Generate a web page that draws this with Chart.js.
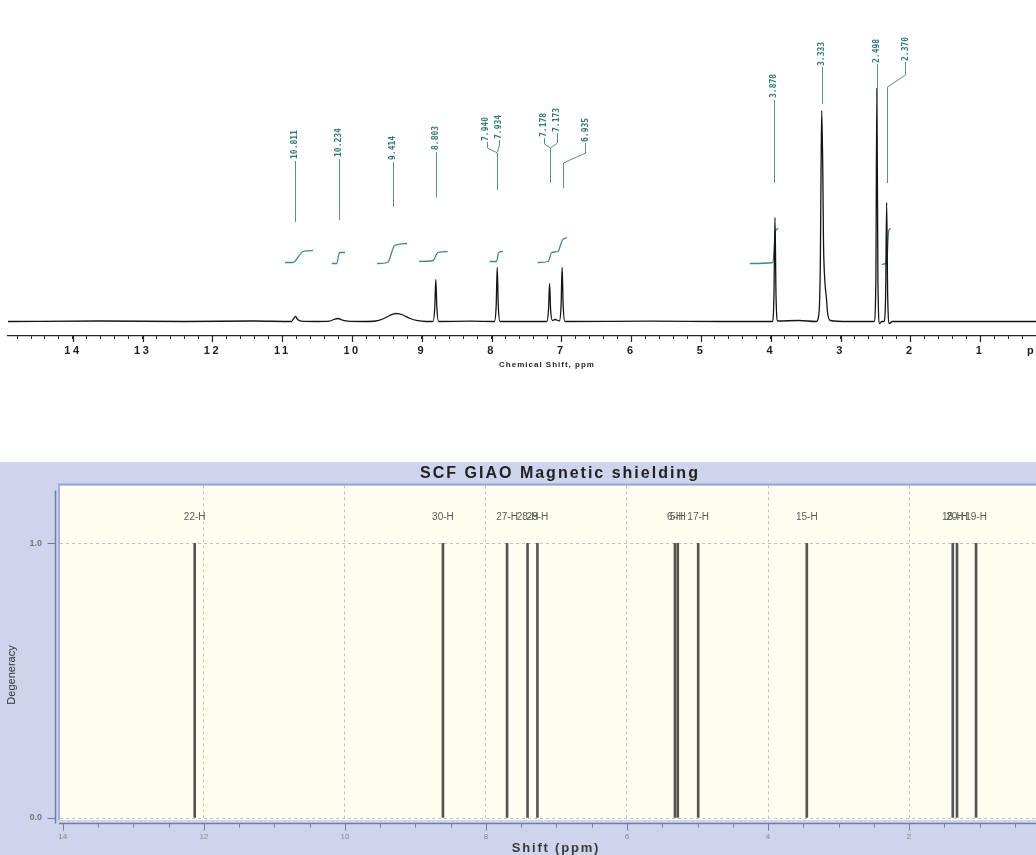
<!DOCTYPE html>
<html>
<head>
<meta charset="utf-8">
<title>1H NMR and SCF GIAO shielding</title>
<script src="https://cdn.jsdelivr.net/npm/chart.js@4.4.1/dist/chart.umd.min.js"></script>
<style>
  html, body { margin: 0; padding: 0; background: #fff; }
  body { position: relative; width: 1036px; height: 855px; overflow: hidden; }
  canvas { position: absolute; left: 0; display: block; }
  #nmrChart { top: 0; }
  #giaoChart { top: 462px; }
</style>
</head>
<body>
<canvas id="nmrChart" width="1036" height="380"></canvas>
<canvas id="giaoChart" width="1036" height="393"></canvas>
<script>
const spectrumPoints = [
    [14.93, 0], [13.60, 0.5], [12.40, 0], [11.40, 0.5],
    [10.87, 0], [10.84, 2.5], [10.81, 5], [10.78, 2], [10.73, 0.3],
    [10.50, 0],
    [10.33, 0.3], [10.26, 2], [10.20, 3], [10.14, 1.5], [10.06, 0.3],
    [9.85, 0],
    [9.66, 0.5], [9.56, 2.5], [9.46, 6], [9.37, 8], [9.27, 6.5], [9.17, 3], [9.06, 0.8], [8.94, 0],
    [8.84, 0], [8.815, 14], [8.80, 42], [8.785, 14], [8.76, 0],
    [8.30, 0.3],
    [7.96, 0], [7.935, 16], [7.92, 54], [7.905, 16], [7.88, 0],
    [7.50, 0],
    [7.21, 0], [7.185, 12], [7.17, 38], [7.155, 12], [7.13, 1], [7.09, 2],
    [7.03, 0.5], [7.005, 16], [6.99, 54], [6.975, 16], [6.95, 0],
    [5.70, 0.3], [4.70, 0],
    [3.98, 0], [3.955, 25], [3.94, 104], [3.925, 25], [3.90, 0.5],
    [3.60, 1],
    [3.35, 0], [3.31, 8], [3.29, 60], [3.28, 150], [3.27, 211], [3.255, 150], [3.245, 80],
    [3.225, 40], [3.205, 25], [3.185, 8], [3.145, 1],
    [2.90, 0],
    [2.52, 0], [2.495, 40], [2.48, 233], [2.465, 40], [2.44, -2], [2.41, 0],
    [2.38, 0], [2.355, 25], [2.34, 119], [2.325, 25], [2.30, -2], [2.26, 0],
    [1.60, 0], [0.20, 0]
];

// Integral steps over the peaks: [ppm, level]
const integralSteps = [
    [[10.96, 59], [10.85, 59], [10.70, 70], [10.56, 71]],
    [[10.29, 58], [10.22, 58], [10.18, 69], [10.10, 69]],
    [[9.64, 58], [9.49, 59], [9.39, 76], [9.21, 78]],
    [[9.04, 60], [8.84, 61], [8.77, 69], [8.63, 70]],
    [[8.03, 60], [7.93, 60], [7.90, 69], [7.84, 70]],
    [[7.34, 59], [7.19, 60], [7.14, 69], [7.05, 70], [6.99, 81], [6.92, 84]],
    [[4.30, 58], [3.97, 59], [3.93, 91], [3.89, 93]],
    [[2.41, 57], [2.34, 59], [2.31, 91], [2.28, 93]]
];

// Peak picking labels as printed
const peakLabels = ['10.811', '10.234', '9.414', '8.803', '7.940', '7.934',
    '7.178', '7.173', '6.935', '3.878', '3.333', '2.498', '2.370'];

const nmrMajorTicks = [1, 2, 3, 4, 5, 6, 7, 8, 9, 10, 11, 12, 13, 14];
const nmrMinorStep = 0.2;

// SCF GIAO calculated shifts
const giaoShift = [12.13, 8.61, 7.70, 7.41, 7.27, 5.32, 5.28, 4.99, 3.45, 1.38, 1.32, 1.05];
const giaoDegeneracy = [1, 1, 1, 1, 1, 1, 1, 1, 1, 1, 1, 1];
const giaoAtom = ['22-H', '30-H', '27-H', '28-H', '29-H', '6-H', '5-H', '17-H', '15-H', '18-H', '20-H', '19-H'];

const giaoMajorTicks = [2, 4, 6, 8, 10, 12, 14];
const giaoMinorStep = 0.5;
const degeneracyTicks = [0, 1];

const TEAL = '#2b7a70';
const TEAL_LINE = '#4f938b';

// where each printed label sits and how its leader runs down (ppm, px)
const leaderLayout = [
    { label: 0, at: 10.82, bottom: 159, path: [[10.82, 161], [10.82, 222]] },
    { label: 1, at: 10.19, bottom: 157, path: [[10.19, 159], [10.19, 220]] },
    { label: 2, at: 9.42, bottom: 160, path: [[9.42, 162], [9.42, 207]] },
    { label: 3, at: 8.80, bottom: 150, path: [[8.80, 152], [8.80, 197]] },
    { label: 4, at: 8.08, bottom: 141, path: [[8.07, 142], [8.07, 148], [7.93, 153], [7.93, 190]] },
    { label: 5, at: 7.89, bottom: 139, path: [[7.89, 140], [7.89, 145], [7.93, 152]] },
    { label: 6, at: 7.25, bottom: 137, path: [[7.25, 138], [7.25, 144], [7.17, 148], [7.17, 183]] },
    { label: 7, at: 7.07, bottom: 132, path: [[7.07, 133], [7.07, 143], [7.17, 148]] },
    { label: 8, at: 6.65, bottom: 142, path: [[6.66, 143], [6.66, 153], [6.98, 163], [6.98, 188]] },
    { label: 9, at: 3.96, bottom: 98, path: [[3.96, 100], [3.96, 183]] },
    { label: 10, at: 3.27, bottom: 66, path: [[3.27, 67], [3.27, 104]] },
    { label: 11, at: 2.48, bottom: 63, path: [[2.48, 64], [2.48, 90]] },
    { label: 12, at: 2.07, bottom: 61, path: [[2.07, 62], [2.07, 75], [2.34, 87], [2.34, 183]] }
];

function stepTicks(scale, step) {
    const ticks = [];
    const n = Math.round(1 / step);
    for (let k = Math.ceil(scale.min * n); k <= Math.floor(scale.max * n); k++) {
        ticks.push({ value: k / n });
    }
    scale.ticks = ticks;
}

const nmrDecor = {
    id: 'nmrDecor',
    beforeDraw(chart) {
        const ctx = chart.ctx;
        ctx.save();
        ctx.fillStyle = '#fff';
        ctx.fillRect(0, 0, chart.width, chart.height);
        ctx.restore();
        ctx.letterSpacing = '2.5px'; // wide tick digits, as on the scan
    },
    afterDatasetsDraw(chart) {
        const ctx = chart.ctx;
        const xs = chart.scales.x;
        ctx.save();
        ctx.letterSpacing = '0px';
        ctx.strokeStyle = TEAL_LINE;
        ctx.lineWidth = 1;
        ctx.fillStyle = TEAL;
        ctx.font = 'bold 8px "DejaVu Sans Mono", "Liberation Mono", monospace';
        leaderLayout.forEach(l => {
            ctx.beginPath();
            l.path.forEach(([p, py], i) => {
                const px = Math.round(xs.getPixelForValue(p)) + 0.5;
                if (i === 0) ctx.moveTo(px, py); else ctx.lineTo(px, py);
            });
            ctx.stroke();
            ctx.save();
            ctx.translate(xs.getPixelForValue(l.at), l.bottom);
            ctx.rotate(-Math.PI / 2);
            ctx.textAlign = 'left';
            ctx.textBaseline = 'middle';
            ctx.fillText(peakLabels[l.label], 0, 0);
            ctx.restore();
        });
        ctx.restore();
    },
    afterDraw(chart) {
        const ctx = chart.ctx;
        const xs = chart.scales.x;
        const base = chart.chartArea.bottom;
        ctx.letterSpacing = '0px';
        ctx.save();
        ctx.strokeStyle = '#222';
        ctx.lineWidth = 1.2;
        ctx.beginPath();
        nmrMajorTicks.forEach(v => {
            const px = Math.round(xs.getPixelForValue(v)) + 0.5;
            ctx.moveTo(px, base);
            ctx.lineTo(px, base + 6);
        });
        ctx.stroke();
        ctx.fillStyle = '#1e1e1e';
        ctx.font = 'bold 8px "Liberation Sans", Arial, sans-serif';
        ctx.letterSpacing = '1px';
        ctx.textAlign = 'center';
        ctx.textBaseline = 'middle';
        ctx.fillText('Chemical Shift, ppm', 547, 365);
        ctx.font = 'bold 11px "Liberation Sans", Arial, sans-serif';
        ctx.letterSpacing = '2px';
        ctx.textAlign = 'left';
        ctx.fillText('ppm', 1027, 351);
        ctx.restore();
    }
};

new Chart(document.getElementById('nmrChart'), {
    type: 'line',
    data: {
        datasets: [
            {
                data: spectrumPoints.map(([x, y]) => ({ x, y })),
                borderColor: '#141414',
                borderWidth: 1.3,
                pointRadius: 0,
                cubicInterpolationMode: 'monotone'
            },
            ...integralSteps.map(step => ({
                data: step.map(([x, y]) => ({ x, y })),
                borderColor: '#3e8b81',
                borderWidth: 1.3,
                pointRadius: 0,
                cubicInterpolationMode: 'monotone'
            }))
        ]
    },
    options: {
        responsive: false,
        animation: false,
        devicePixelRatio: 1,
        events: [],
        layout: { padding: { left: 8, right: 0, top: 10, bottom: 0 } },
        plugins: { legend: { display: false }, tooltip: { enabled: false } },
        scales: {
            x: {
                type: 'linear',
                reverse: true,
                min: 0.20,
                max: 14.93,
                afterBuildTicks: s => stepTicks(s, nmrMinorStep),
                afterFit: s => { s.height = 44; },
                grid: { drawOnChartArea: false, drawTicks: true, tickLength: 3, tickColor: '#222', tickWidth: 1 },
                border: { display: true, color: '#222', width: 1.2 },
                ticks: {
                    autoSkip: false,
                    maxRotation: 0,
                    padding: 5,
                    color: '#1e1e1e',
                    font: { family: '"Liberation Sans", Arial, sans-serif', size: 11, weight: 'bold' },
                    callback: v => nmrMajorTicks.includes(Math.round(v * 1000) / 1000) ? String(Math.round(v)) : ''
                }
            },
            y: { display: false, min: -14.5, max: 311.5 }
        }
    },
    plugins: [nmrDecor]
});

const giaoDecor = {
    id: 'giaoDecor',
    beforeDraw(chart) {
        const { ctx, chartArea: a } = chart;
        ctx.save();
        ctx.fillStyle = '#cdd4ec';
        ctx.fillRect(0, 0, chart.width, chart.height);
        ctx.fillStyle = '#fefef0';
        ctx.fillRect(a.left, a.top, a.right - a.left, a.bottom - a.top + 2);

        ctx.textAlign = 'center';
        ctx.textBaseline = 'middle';
        ctx.fillStyle = '#222';
        ctx.font = 'bold 16px "Liberation Sans", Arial, sans-serif';
        ctx.letterSpacing = '2px';
        ctx.fillText('SCF GIAO Magnetic shielding', 560, 12);

        ctx.fillStyle = '#3a3a3a';
        ctx.font = 'bold 13px "Liberation Sans", Arial, sans-serif';
        ctx.letterSpacing = '1.8px';
        ctx.fillText('Shift (ppm)', 556, 386);

        ctx.letterSpacing = '0px';
        ctx.translate(12, 213);
        ctx.rotate(-Math.PI / 2);
        ctx.fillStyle = '#333';
        ctx.font = '11px "Liberation Sans Narrow", "Liberation Sans", sans-serif';
        ctx.fillText('Degeneracy', 0, 0);
        ctx.restore();
    },
    afterDraw(chart) {
        const { ctx, chartArea: a, scales: { x, y } } = chart;
        ctx.save();
        // plot frame
        ctx.strokeStyle = '#95a3d6';
        ctx.lineWidth = 2;
        ctx.beginPath();
        ctx.moveTo(a.left - 2, a.top - 1);
        ctx.lineTo(a.right, a.top - 1);
        ctx.stroke();
        ctx.lineWidth = 1.5;
        ctx.beginPath();
        ctx.moveTo(a.left - 1, a.top);
        ctx.lineTo(a.left - 1, a.bottom + 2);
        ctx.stroke();

        // axis lines set off from the frame
        const axisX = 55.5;
        const axisY = a.bottom + 5.5;
        ctx.strokeStyle = '#6e7dab';
        ctx.lineWidth = 1.5;
        ctx.beginPath();
        ctx.moveTo(axisX, a.top + 5);
        ctx.lineTo(axisX, axisY);
        ctx.moveTo(a.left - 1, axisY);
        ctx.lineTo(a.right, axisY);
        ctx.stroke();

        ctx.lineWidth = 1;
        ctx.beginPath();
        degeneracyTicks.forEach(v => {
            const py = Math.round(y.getPixelForValue(v)) + 0.5;
            ctx.moveTo(axisX - 8, py);
            ctx.lineTo(axisX, py);
        });
        x.ticks.forEach(t => {
            const px = Math.round(x.getPixelForValue(t.value)) + 0.5;
            ctx.moveTo(px, axisY);
            ctx.lineTo(px, axisY + (giaoMajorTicks.includes(t.value) ? 7 : 4));
        });
        ctx.stroke();

        // atom labels over the sticks
        ctx.fillStyle = '#5a5a5a';
        ctx.font = '10px "Liberation Sans", Arial, sans-serif';
        ctx.textAlign = 'center';
        ctx.textBaseline = 'middle';
        giaoShift.forEach((s, i) => ctx.fillText(giaoAtom[i], x.getPixelForValue(s), 55));
        ctx.restore();
    }
};

new Chart(document.getElementById('giaoChart'), {
    type: 'bar',
    data: {
        datasets: [{
            data: giaoShift.map((s, i) => ({ x: s, y: giaoDegeneracy[i] })),
            backgroundColor: '#555',
            borderWidth: 0,
            barThickness: 2
        }]
    },
    options: {
        responsive: false,
        animation: false,
        devicePixelRatio: 1,
        events: [],
        layout: { padding: { left: 0, right: 0, top: 23, bottom: 0 } },
        plugins: { legend: { display: false }, tooltip: { enabled: false } },
        scales: {
            x: {
                type: 'linear',
                reverse: true,
                offset: false,
                min: 0.2,
                max: 14.04,
                afterBuildTicks: s => stepTicks(s, giaoMinorStep),
                afterFit: s => { s.height = 37; },
                grid: {
                    offset: false,
                    drawTicks: false,
                    lineWidth: 1,
                    color: c => (c.tick && giaoMajorTicks.includes(c.tick.value) && c.tick.value < 14) ? '#c3c3c3' : 'rgba(0,0,0,0)'
                },
                border: { display: false, dash: [3, 3] },
                ticks: {
                    autoSkip: false,
                    maxRotation: 0,
                    padding: 14,
                    color: '#888',
                    font: { family: '"Liberation Sans", Arial, sans-serif', size: 8 },
                    callback: v => giaoMajorTicks.includes(v) ? String(v) : ''
                }
            },
            y: {
                min: 0,
                max: 1.211,
                afterBuildTicks: s => { s.ticks = degeneracyTicks.map(v => ({ value: v })); },
                afterFit: s => { s.width = 60; },
                grid: { drawTicks: false, color: '#c3c3c3', lineWidth: 1 },
                border: { display: false, dash: [3, 3] },
                ticks: {
                    padding: 18,
                    color: '#777',
                    font: { family: '"Liberation Sans", Arial, sans-serif', size: 9, weight: 'bold' },
                    callback: v => v.toFixed(1)
                }
            }
        }
    },
    plugins: [giaoDecor]
});
</script>
</body>
</html>
